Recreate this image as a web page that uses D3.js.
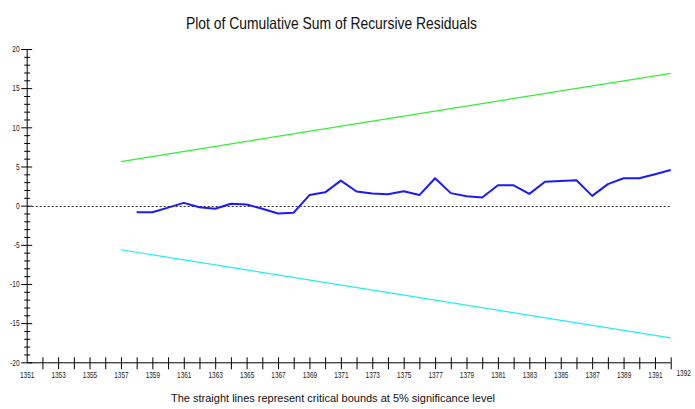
<!DOCTYPE html>
<html>
<head>
<meta charset="utf-8">
<script src="https://cdn.jsdelivr.net/npm/d3@7"></script>
<style>
  html, body { margin: 0; padding: 0; background: #fff; }
  svg { display: block; font-family: "Liberation Sans", Arial, sans-serif; }
</style>
</head>
<body>
<svg id="chart" width="695" height="409"></svg>
<script>
// ---- data ----
const cusumYears = d3.range(1358, 1393);
const cusumValues = [-0.85, -0.85, -0.25, 0.35, -0.2, -0.4, 0.25, 0.15, -0.4, -1.0,
  -0.9, 1.35, 1.7, 3.2, 1.8, 1.55, 1.45, 1.85, 1.35, 3.5,
  1.6, 1.2, 1.05, 2.6, 2.6, 1.5, 3.05, 3.15, 3.25, 1.25,
  2.75, 3.5, 3.5, 4.0, 4.55];
const boundYears = [1357, 1392];
const upperBound = [5.63, 16.89];
const lowerBound = [-5.63, -16.89];
const xTickYears = d3.range(1351, 1393);
const yTickValues = d3.range(-20, 21, 1);
const titleText = "Plot of Cumulative Sum of Recursive Residuals";
const noteText = "The straight lines represent critical bounds at 5% significance level";

// ---- chart ----
const svg = d3.select("#chart");
const x = d3.scaleLinear().domain([1351, 1392]).range([26.7, 670.7]);
const y = d3.scaleLinear().domain([-20, 20]).range([362.3, 49]);

function squeeze(sel, f) {
  sel.each(function () {
    const w = this.getComputedTextLength();
    if (w > 0) {
      d3.select(this).attr("textLength", w * f).attr("lengthAdjust", "spacingAndGlyphs");
    }
  });
}

// y axis
const yAxis = d3.axisLeft(y).tickValues(yTickValues)
  .tickFormat(d => d % 5 === 0 ? d : "").tickSize(6).tickPadding(1);
const gy = svg.append("g").attr("transform", `translate(${x(1351)},0)`).call(yAxis);
gy.select(".domain").attr("stroke", "#000").attr("d", `M0.5,${y(20)}V${y(-20)}`);
gy.selectAll(".tick line")
  .attr("stroke", "#000")
  .attr("x1", d => d % 5 === 0 ? 5 : 3)
  .attr("x2", d => d % 5 === 0 ? -6 : -3)
  .attr("transform", "translate(0.5,0)");
gy.selectAll(".tick text").attr("fill", "#222").style("font-size", "8.5px").attr("x", -7);
squeeze(gy.selectAll(".tick text"), 0.78);

// x axis
const xAxis = d3.axisBottom(x).tickValues(xTickYears)
  .tickFormat(d => (d - 1351) % 2 === 0 ? d : "").tickSize(7).tickPadding(3);
const gx = svg.append("g").attr("transform", `translate(0,${y(-20)})`).call(xAxis);
gx.select(".domain").attr("stroke", "#000").attr("d", `M${x(1351)},0.5H${x(1392)}`);
gx.selectAll(".tick line").attr("stroke", "#000").attr("y1", -5)
  .attr("opacity", d => d === 1351 ? 0 : 1);
gx.selectAll(".tick text").attr("fill", "#222").style("font-size", "8.5px");
squeeze(gx.selectAll(".tick text"), 0.76);

// end label 1392
const endLbl = svg.append("text")
  .attr("x", x(1392) + 13).attr("y", y(-20) + 14)
  .attr("text-anchor", "middle").attr("fill", "#222").style("font-size", "8.5px")
  .text(1392);
squeeze(endLbl, 0.76);

// zero dotted line
svg.append("line")
  .attr("x1", x(1351) + 1).attr("x2", x(1392))
  .attr("y1", Math.round(y(0)) + 0.5).attr("y2", Math.round(y(0)) + 0.5)
  .attr("stroke", "#333").attr("stroke-width", 1).attr("stroke-dasharray", "2,2");

// bounds
const lineGen = d3.line().x(d => x(d[0])).y(d => y(d[1]));
svg.append("path").datum(boundYears.map((yr, i) => [yr, upperBound[i]]))
  .attr("d", lineGen).attr("fill", "none").attr("stroke", "#33ee33").attr("stroke-width", 1.2);
svg.append("path").datum(boundYears.map((yr, i) => [yr, lowerBound[i]]))
  .attr("d", lineGen).attr("fill", "none").attr("stroke", "#22eeee").attr("stroke-width", 1.2);

// cusum
svg.append("path").datum(cusumYears.map((yr, i) => [yr, cusumValues[i]]))
  .attr("d", lineGen).attr("fill", "none").attr("stroke", "#1a1aff")
  .attr("stroke-width", 2).attr("stroke-linejoin", "round");

// title & note
svg.append("text").attr("x", 186).attr("y", 29)
  .attr("textLength", 291).attr("lengthAdjust", "spacingAndGlyphs")
  .style("font-size", "16.5px").attr("fill", "#111").text(titleText);
svg.append("text").attr("x", 171).attr("y", 402)
  .attr("textLength", 324).attr("lengthAdjust", "spacingAndGlyphs")
  .style("font-size", "11px").attr("fill", "#111").text(noteText);
</script>
</body>
</html>
